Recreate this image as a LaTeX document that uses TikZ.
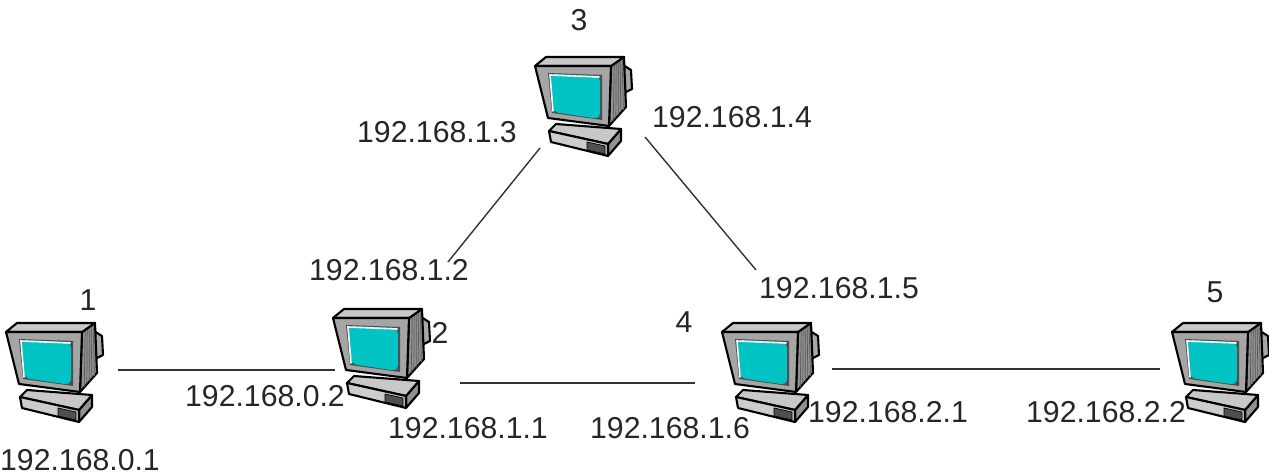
\documentclass[tikz,border=0pt]{standalone}
\usepackage{fontspec}
\setmainfont{Liberation Sans}
\usetikzlibrary{calc}
\definecolor{screencyan}{RGB}{0,196,196}
\definecolor{bezelgray}{RGB}{165,165,165}
\definecolor{topgray}{RGB}{200,200,200}
\definecolor{sidegray}{RGB}{145,145,145}
\definecolor{basegray}{RGB}{205,205,205}
\definecolor{darkgray2}{RGB}{80,80,80}
\tikzset{
  outline/.style={draw=black, line width=1.2pt, line join=round},
  pcbox/.style={minimum width=1.94cm, minimum height=2.06cm, inner sep=0pt, draw=none},
  addr/.style={inner sep=0pt, font=\fontsize{17.2}{20}\selectfont, text=black!85},
  link/.style={draw=black!80, line width=0.8pt},
  computer/.pic={
    % monitor back bulge
    \path[outline, fill=sidegray!80] (41,-42) -- (49,-37) -- (50,-18) -- (42,-14) -- cycle;
    % monitor right side with vent stripes
    \path[outline, fill=sidegray] (29,-41) -- (42,-50) -- (44,0) -- (27,19) -- cycle;
    \foreach \t in {0.25,0.4,0.55,0.7,0.85}
      \draw[black!65, line width=0.4pt] ($(29,-41)!\t!(42,-50)$) -- ($(27,19)!\t!(44,0)$);
    % monitor top
    \path[outline, fill=topgray] (-47,-41) -- (-36,-50) -- (42,-50) -- (29,-41) -- cycle;
    % base box
    \path[outline, fill=sidegray] (26,37) -- (39,22) -- (39,34) -- (26,49) -- cycle;
    \path[outline, fill=topgray] (-33,24) -- (-26,17) -- (39,22) -- (26,37) -- cycle;
    \path[outline, fill=basegray] (-33,24) -- (26,37) -- (26,49) -- (-31,35) -- cycle;
    \path[fill=darkgray2, draw=black, line width=0.4pt] (5,35) -- (23,39) -- (23,47) -- (5,43) -- cycle;
    % monitor front bezel
    \path[outline, fill=bezelgray] (-47,-41) -- (29,-41) -- (27,19) -- (-34,11) -- cycle;
    \path[fill=black!70] (-34,-34) -- (20,-32) -- (20,13) -- (-30,6) -- cycle;
    % screen
    \path[fill=screencyan, rounded corners=3pt] (-32,-33) -- (18,-31) -- (18,12) -- (-29,5) -- cycle;
    \draw[white, line width=0.9pt, line cap=round] (-29,4) -- (-32,-32) -- (17,-30);
  }
}
\begin{document}
\begin{tikzpicture}[x=0.02cm, y=-0.02cm]
  \useasboundingbox[fill=white] (0,0) rectangle (1269,475);

  % computers
  \node[pcbox] (c1) at (53,373) {};
  \node[pcbox] (c2) at (380,359) {};
  \node[pcbox] (c3) at (582,107) {};
  \node[pcbox] (c4) at (769,373) {};
  \node[pcbox] (c5) at (1219,373) {};

  % links
  \draw[link] ($(c1.center)+(65,-3)$) -- ($(c2.center)+(-45,11)$);
  \draw[link] ($(c2.center)+(80,24)$) -- ($(c4.center)+(-74,10)$);
  \draw[link] ($(c4.center)+(63,-4)$) -- ($(c5.center)+(-59,-4)$);
  \draw[link] ($(c3.center)+(-42,41)$) -- ($(c2.center)+(68,-97)$);
  \draw[link] ($(c3.center)+(63,30)$) -- ($(c4.center)+(-13,-103)$);

  \foreach \c in {c1,c2,c3,c4,c5}
    \pic at (\c.center) {computer};

  % host numbers
  \node[addr] (n1) at (88,300) {1};
  \node[addr] (n2) at (440,333) {2};
  \node[addr] (n3) at (579,20) {3};
  \node[addr] (n4) at (684,322) {4};
  \node[addr] (n5) at (1215,292) {5};

  % interface addresses
  \node[addr] (a01) at (80,460) {192.168.0.1};
  \node[addr] (a02) at (265,396) {192.168.0.2};
  \node[addr] (a11) at (468,428) {192.168.1.1};
  \node[addr] (a12) at (389,270) {192.168.1.2};
  \node[addr] (a13) at (437,132) {192.168.1.3};
  \node[addr] (a14) at (732,117) {192.168.1.4};
  \node[addr] (a15) at (839,288) {192.168.1.5};
  \node[addr] (a16) at (670,428) {192.168.1.6};
  \node[addr] (a21) at (888,412) {192.168.2.1};
  \node[addr] (a22) at (1106,412) {192.168.2.2};
\end{tikzpicture}
\end{document}
